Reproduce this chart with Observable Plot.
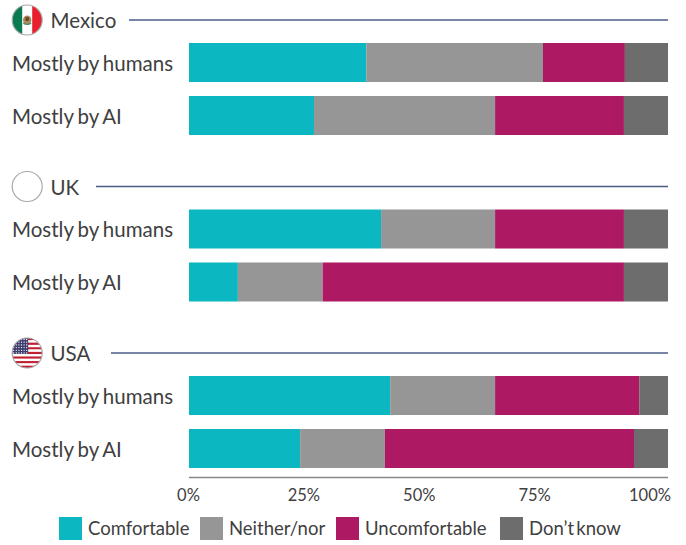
<!DOCTYPE html>
<html><head><meta charset="utf-8">
<script src="https://cdn.jsdelivr.net/npm/d3@7"></script>
<script src="https://cdn.jsdelivr.net/npm/@observablehq/plot@0.6"></script>
<style>
html,body{margin:0;padding:0;background:#fff;}
#chart svg{display:block;word-spacing:-1.2px;}
#legend{position:relative;height:33px;font:18.5px Lato,sans-serif;color:#404040;word-spacing:-2.5px;}
#legend i{position:absolute;top:5px;width:23px;height:23px;display:block;}
#legend span{position:absolute;top:4px;line-height:25px;white-space:nowrap;}
</style></head><body>
<div id="chart"></div><div id="legend"></div>
<script>
const countries = ["Mexico", "UK", "USA"];
const rows = ["Mostly by humans", "Mostly by AI"];
const responses = ["Comfortable", "Neither/nor", "Uncomfortable", "Don\u2019t know"];
const colors = ["#0bb8c1", "#969696", "#ae1963", "#6d6d6d"];
const mexicoHumans = [37, 36.9, 17.1, 9];
const mexicoAI = [26.1, 37.8, 26.9, 9.2];
const ukHumans = [40.1, 23.8, 26.9, 9.2];
const ukAI = [10.2, 17.7, 62.9, 9.2];
const usaHumans = [42, 21.9, 30.1, 6];
const usaAI = [23.2, 17.7, 52, 7.1];
const ticks = [0, 25, 50, 75, 100];

const series = [
  ["Mexico", rows[0], mexicoHumans], ["Mexico", rows[1], mexicoAI],
  ["UK", rows[0], ukHumans], ["UK", rows[1], ukAI],
  ["USA", rows[0], usaHumans], ["USA", rows[1], usaAI]
];
const table = series.flatMap(([country, row, vals]) =>
  vals.map((value, i) => ({country, row, response: responses[i], value})));

// layout
const L = 189, R = 668, W = 686, H = 512;
const pct = px => (px - L) / (R - L) * 100;
const ruleStart = {Mexico: 129, UK: 96, USA: 111};
const topRow = () => rows[0];
const lowRow = () => rows[1];

// flags, as small inline SVGs
const svgUri = s => "data:image/svg+xml;utf8," + encodeURIComponent(
  `<svg xmlns="http://www.w3.org/2000/svg" viewBox="0 0 30 30" width="30" height="30">${s}</svg>`);
const mexicoFlag = svgUri(
  `<rect width="30" height="30" fill="#fff"/><rect width="10" height="30" fill="#0a7a50"/>` +
  `<rect x="20" width="10" height="30" fill="#e8202e"/>` +
  `<ellipse cx="15" cy="15" rx="4.2" ry="4.6" fill="#a98a5a"/><ellipse cx="15" cy="14" rx="2" ry="2.2" fill="#6b4a2a"/>` +
  `<path d="M11 18q4 3 8 0" stroke="#4d8a5a" stroke-width="1.1" fill="none"/>`);
const stripes = d3.range(13).map(i =>
  `<rect y="${i * 30 / 13}" width="30" height="${30 / 13}" fill="${i % 2 ? "#fff" : "#c0202f"}"/>`).join("");
const stars = d3.cross(d3.range(6), d3.range(6)).map(([a, b]) =>
  `<circle cx="${1.5 + a * 2.6}" cy="${1.5 + b * 2.7}" r=".65" fill="#fff"/>`).join("");
const usaFlag = svgUri(stripes + `<rect width="16" height="16" fill="#3c3b6e"/>` + stars);
const flags = [{country: "Mexico", src: mexicoFlag}, {country: "USA", src: usaFlag}];

const font = "Lato, sans-serif";
const ink = "#404040";
const lastCountry = countries[countries.length - 1];

const plot = Plot.plot({
  width: W, height: H,
  marginLeft: L, marginRight: W - R, marginTop: 0, marginBottom: 0,
  style: {fontFamily: font, background: "#fff", overflow: "visible"},
  x: {domain: [0, 100], axis: null},
  y: {domain: rows, range: [43, 135], paddingInner: 0.264, paddingOuter: 0, axis: null, round: false},
  fy: {domain: countries, range: [0, 499.5], padding: 0, axis: null, round: false},
  color: {domain: responses, range: colors},
  marks: [
    Plot.barX(table, {x: "value", y: "row", fy: "country", fill: "response", order: responses}),
    Plot.text(series, {fy: d => d[0], y: d => d[1], x: 0, dx: 11.5 - L, dy: 1, text: d => d[1],
      textAnchor: "start", fontSize: 20.5, fill: ink}),
    // country headers
    Plot.ruleY(countries, {fy: d => d, y: topRow, x1: d => pct(ruleStart[d]), x2: 100, dy: -43,
      stroke: "#4c5c87", strokeWidth: 1.6}),
    Plot.text(countries, {fy: d => d, y: topRow, x: 0, dx: 50 - L, dy: -41.5, text: d => d,
      textAnchor: "start", fontSize: 20.5, fill: ink}),
    Plot.image(flags, {fy: "country", y: topRow, x: 0, dx: 26.7 - L, dy: -43, src: "src", width: 30, height: 30, r: 15}),
    Plot.dot(countries, {fy: d => d, y: topRow, x: 0, dx: 26.7 - L, dy: -43, r: 15, stroke: "#a8a8a8", strokeWidth: 1.2, fill: "none"}),
    // bottom axis
    Plot.ruleY([lastCountry], {fy: d => d, y: lowRow, x1: 0, x2: 100, dy: 28.5, stroke: "#888", strokeWidth: 1.5}),
    Plot.text(ticks, {fy: () => lastCountry, y: lowRow, x: d => d * 0.9635, dx: -1, dy: 47,
      text: d => d + "%", fontSize: 16.5, fill: ink})
  ]
});
document.getElementById("chart").append(plot);

const swatchX = [59, 200, 336, 500];
const legend = d3.select("#legend");
responses.forEach((r, i) => {
  legend.append("i").style("left", swatchX[i] + "px").style("background", colors[i]);
  legend.append("span").style("left", swatchX[i] + 29 + "px").text(r);
});
</script>
</body></html>
